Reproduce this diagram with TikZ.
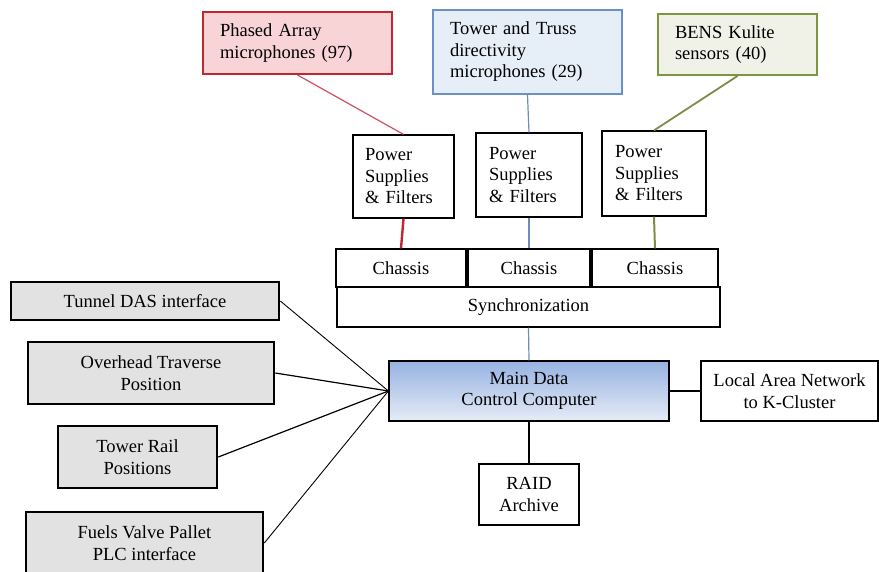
\documentclass[tikz,border=0pt]{standalone}
\usepackage{fontspec}
\setmainfont{Liberation Serif}
\definecolor{rr}{RGB}{192, 40, 48}
\definecolor{rf}{RGB}{249, 212, 214}
\definecolor{rl}{RGB}{205, 80, 100}
\definecolor{bb}{RGB}{105, 145, 200}
\definecolor{bf}{RGB}{230, 238, 248}
\definecolor{bl}{RGB}{110, 140, 185}
\definecolor{gg}{RGB}{122, 150, 62}
\definecolor{gf}{RGB}{240, 242, 232}
\definecolor{gl}{RGB}{125, 140, 70}
\definecolor{gy}{RGB}{226, 226, 226}
\definecolor{mt}{RGB}{150, 178, 225}
\definecolor{mb}{RGB}{230, 236, 247}

\begin{document}
\begin{tikzpicture}[
bx/.style={draw=black, line width=1.2pt, inner sep=0pt, align=center, font=\fontsize{18.5}{21.5}\selectfont},
lbx/.style={bx, align=left, inner xsep=#1},
gbx/.style={bx, fill=gy, line width=2.6pt},
ln/.style={line width=1.2pt}]
\useasboundingbox (0pt, 0pt) rectangle (879pt, -572pt);
% sensor groups
\node (1) [lbx=17pt, text width=155pt, minimum width=189pt, minimum height=62pt, draw=rr, fill=rf, line width=2pt] at (297.5pt, -43.0pt) {Phased Array\\microphones (97)};
\node (2) [lbx=17pt, text width=155pt, minimum width=189pt, minimum height=84pt, draw=bb, fill=bf, line width=2pt] at (527.5pt, -52.0pt) {Tower and Truss\\directivity\\microphones (29)};
\node (3) [lbx=17pt, text width=125pt, minimum width=159pt, minimum height=61pt, draw=gg, fill=gf, line width=2pt] at (737.5pt, -44.5pt) {BENS Kulite\\sensors (40)};
% power supplies
\node (4) [lbx=12pt, text width=77pt, minimum width=101pt, minimum height=83pt] at (403.5pt, -176.5pt) {Power\\Supplies\\\& Filters};
\node (5) [lbx=13pt, text width=80pt, minimum width=106pt, minimum height=84pt] at (529.0pt, -175.0pt) {Power\\Supplies\\\& Filters};
\node (6) [lbx=13pt, text width=78pt, minimum width=104pt, minimum height=85pt] at (654.0pt, -173.5pt) {Power\\Supplies\\\& Filters};
% chassis
\node (7) [bx, minimum width=130pt, minimum height=38pt] at (401.0pt, -268.0pt) {Chassis};
\node (8) [bx, minimum width=122pt, minimum height=38pt] at (529.0pt, -268.0pt) {Chassis};
\node (9) [bx, minimum width=126pt, minimum height=38pt] at (655.0pt, -268.0pt) {Chassis};
\node (10) [bx, minimum width=383pt, minimum height=40pt] at (528.5pt, -307.0pt) {Synchronization};
% computer
\node (11) [bx, top color=mt, bottom color=mb, minimum width=280pt, minimum height=60pt] at (529.0pt, -391.0pt) {Main Data\\Control Computer};
\node (12) [bx, minimum width=177pt, minimum height=60pt] at (789.5pt, -391.0pt) {Local Area Network\\to K-Cluster};
\node (13) [bx, minimum width=100pt, minimum height=61pt] at (529.0pt, -494.5pt) {RAID\\Archive};
% inputs
\node (14) [gbx, minimum width=268pt, minimum height=38pt] at (145.0pt, -301.0pt) {Tunnel DAS interface};
\node (15) [gbx, minimum width=246pt, minimum height=62pt] at (151.0pt, -373.0pt) {Overhead Traverse\\Position};
\node (16) [gbx, minimum width=159pt, minimum height=62pt] at (137.5pt, -457.0pt) {Tower Rail\\Positions};
\node (17) [gbx, minimum width=237pt, minimum height=62pt] at (144.5pt, -543.0pt) {Fuels Valve Pallet\\PLC interface};
\draw [line width=1.2, color=rl] (1.south) to (4.north);
\draw [line width=2.4, color=rr] (4.south) to (7.north);
\draw [line width=1.2, color=bl] (2.south) to (5.north);
\draw [line width=1.8, color=bl] (5.south) to (8.north);
\draw [line width=1.8, color=gl] (3.south) to (6.north);
\draw [line width=2.0, color=gl] (6.south) to (9.north);
\draw [line width=1.2, color=bl] (10.south) to (11.north);
\draw [ln] (11.east) to (12.west);
\draw [ln] (11.south) to (13.north);
\draw [line width=0.9] (14.east) to (11.west);
\draw [ln] (15.east) to (11.west);
\draw [ln] (16.east) to (11.west);
\draw [line width=0.9] (17.east) to (11.west);
\end{tikzpicture}
\end{document}
